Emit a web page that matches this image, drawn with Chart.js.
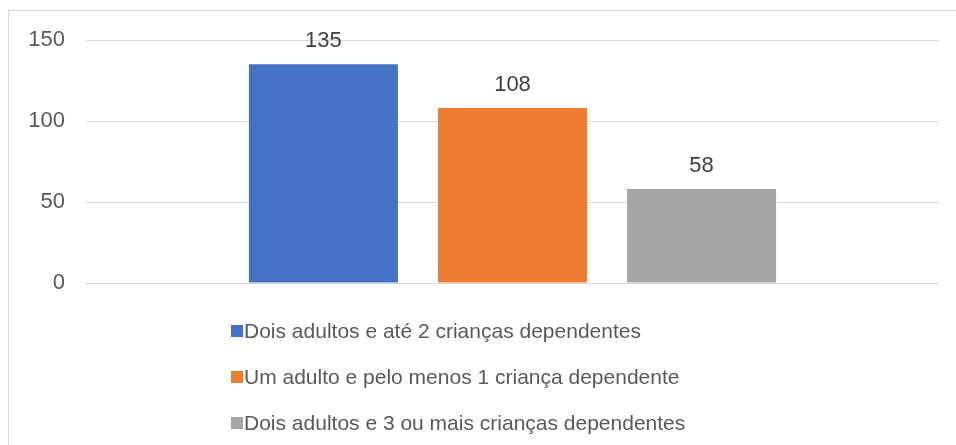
<!DOCTYPE html>
<html>
<head>
<meta charset="utf-8">
<script src="https://cdn.jsdelivr.net/npm/chart.js@4/dist/chart.umd.min.js"></script>
<style>
  html, body { margin: 0; padding: 0; background: #fff; }
  #frame { position: absolute; left: 8px; top: 10px; width: 1000px; height: 500px; border: 1px solid #d9d9d9; }
  #wrap { position: absolute; left: 0; top: 0; width: 956px; height: 445px; }
</style>
</head>
<body>
<div id="frame"></div>
<div id="wrap"><canvas id="grafico"></canvas></div>
<script>
// dados do gráfico
const categorias = [''];
const series = [
    'Dois adultos e até 2 crianças dependentes',
    'Um adulto e pelo menos 1 criança dependente',
    'Dois adultos e 3 ou mais crianças dependentes'
];
const valores = [135, 108, 58];
const cores = ['#4472C4', '#ED7D31', '#A5A5A5'];
const ticksY = [0, 50, 100, 150];

const FONTE = '"Liberation Sans", Arial, sans-serif';
const CINZA = '#595959';

// rótulos de valor em cima das barras
const rotulosPlugin = {
    id: 'rotulos',
    afterDatasetsDraw(chart) {
        const ctx = chart.ctx;
        ctx.save();
        ctx.font = '22px ' + FONTE;
        ctx.fillStyle = '#404040';
        ctx.textAlign = 'center';
        ctx.textBaseline = 'alphabetic';
        chart.data.datasets.forEach((ds, i) => {
            chart.getDatasetMeta(i).data.forEach((bar, j) => {
                ctx.fillText(String(ds.data[j]), bar.x, bar.y - 17);
            });
        });
        ctx.restore();
    }
};

// legenda em lista, alinhada à esquerda
const legendaPlugin = {
    id: 'legendaLista',
    afterDraw(chart) {
        const ctx = chart.ctx;
        const x0 = 231;
        let y = chart.chartArea.bottom + 48;
        ctx.save();
        ctx.font = '21px ' + FONTE;
        ctx.textBaseline = 'middle';
        ctx.textAlign = 'left';
        chart.data.datasets.forEach(ds => {
            ctx.fillStyle = ds.backgroundColor;
            ctx.fillRect(x0, y - 6, 12, 12);
            ctx.fillStyle = CINZA;
            ctx.fillText(ds.label, x0 + 13, y + 1);
            y += 46;
        });
        ctx.restore();
    }
};

const ctx = document.getElementById('grafico').getContext('2d');
new Chart(ctx, {
    type: 'bar',
    data: {
        labels: categorias,
        datasets: series.map((nome, i) => ({
            label: nome,
            data: [valores[i]],
            backgroundColor: cores[i],
            categoryPercentage: 0.665,
            barPercentage: 0.788
        }))
    },
    options: {
        responsive: true,
        maintainAspectRatio: false,
        animation: false,
        layout: { padding: { top: 40, right: 17, bottom: 162, left: 0 } },
        plugins: {
            legend: { display: false },
            tooltip: { enabled: false }
        },
        scales: {
            x: {
                afterFit: s => { s.height = 0; },
                grid: { display: false },
                border: { display: false },
                ticks: { display: false }
            },
            y: {
                min: 0,
                max: 150,
                afterFit: s => { s.width = 86; },
                afterBuildTicks: s => { s.ticks = ticksY.map(v => ({ value: v })); },
                grid: { color: '#d9d9d9', lineWidth: 1, drawTicks: false },
                border: { display: false },
                ticks: {
                    padding: 21,
                    color: CINZA,
                    font: { family: FONTE, size: 22 }
                }
            }
        }
    },
    plugins: [rotulosPlugin, legendaPlugin]
});
</script>
</body>
</html>
